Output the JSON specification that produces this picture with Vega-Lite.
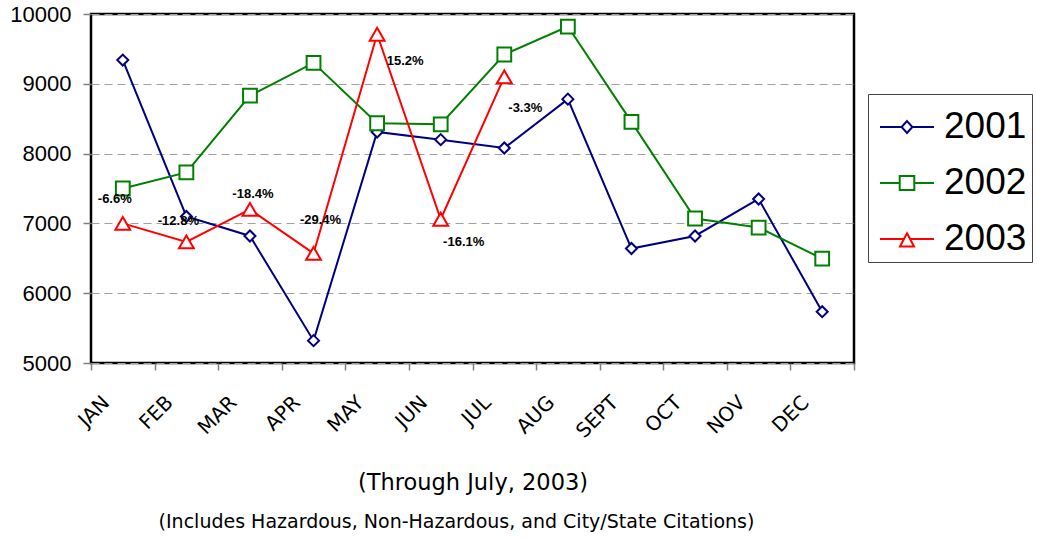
{
  "$schema": "https://vega.github.io/schema/vega-lite/v6.json",
  "width": 763,
  "height": 349,
  "autosize": {"type": "none"},
  "padding": {"left": 91, "top": 14, "right": 183, "bottom": 177},
  "background": "white",
  "config": {
    "view": {"stroke": "#000", "strokeWidth": 2.5},
    "axis": {"domain": false}
  },
  "title": {
    "text": "(Includes Hazardous, Non-Hazardous, and City/State Citations)",
    "orient": "bottom",
    "anchor": "middle",
    "frame": "group",
    "font": "DejaVu Sans",
    "fontSize": 19,
    "fontWeight": "normal",
    "color": "#000",
    "dx": -16,
    "offset": 19
  },
  "datasets": {
    "counts": [
      {"month": "JAN", "year": "2001", "value": 9340},
      {"month": "FEB", "year": "2001", "value": 7100},
      {"month": "MAR", "year": "2001", "value": 6820},
      {"month": "APR", "year": "2001", "value": 5320},
      {"month": "MAY", "year": "2001", "value": 8310},
      {"month": "JUN", "year": "2001", "value": 8200},
      {"month": "JUL", "year": "2001", "value": 8080},
      {"month": "AUG", "year": "2001", "value": 8780},
      {"month": "SEPT", "year": "2001", "value": 6640},
      {"month": "OCT", "year": "2001", "value": 6820},
      {"month": "NOV", "year": "2001", "value": 7350},
      {"month": "DEC", "year": "2001", "value": 5735},
      {"month": "JAN", "year": "2002", "value": 7500},
      {"month": "FEB", "year": "2002", "value": 7730},
      {"month": "MAR", "year": "2002", "value": 8830},
      {"month": "APR", "year": "2002", "value": 9300},
      {"month": "MAY", "year": "2002", "value": 8435},
      {"month": "JUN", "year": "2002", "value": 8420},
      {"month": "JUL", "year": "2002", "value": 9420},
      {"month": "AUG", "year": "2002", "value": 9820},
      {"month": "SEPT", "year": "2002", "value": 8455},
      {"month": "OCT", "year": "2002", "value": 7070},
      {"month": "NOV", "year": "2002", "value": 6940},
      {"month": "DEC", "year": "2002", "value": 6495},
      {"month": "JAN", "year": "2003", "value": 7000},
      {"month": "FEB", "year": "2003", "value": 6735},
      {"month": "MAR", "year": "2003", "value": 7200},
      {"month": "APR", "year": "2003", "value": 6570},
      {"month": "MAY", "year": "2003", "value": 9710},
      {"month": "JUN", "year": "2003", "value": 7060},
      {"month": "JUL", "year": "2003", "value": 9100}
    ],
    "labels": [
      {"month": "JAN", "value": 7000, "label": "-6.6%"},
      {"month": "FEB", "value": 6735, "label": "-12.8%"},
      {"month": "MAR", "value": 7200, "label": "-18.4%"},
      {"month": "APR", "value": 6570, "label": "-29.4%"},
      {"month": "MAY", "value": 9710, "label": "15.2%"},
      {"month": "JUN", "value": 7060, "label": "-16.1%"},
      {"month": "JUL", "value": 9100, "label": "-3.3%"}
    ]
  },
  "encoding": {
    "x": {
      "field": "month",
      "type": "nominal",
      "sort": ["JAN", "FEB", "MAR", "APR", "MAY", "JUN", "JUL", "AUG", "SEPT", "OCT", "NOV", "DEC"],
      "scale": {"type": "band", "paddingInner": 0, "paddingOuter": 0, "domain": ["JAN", "FEB", "MAR", "APR", "MAY", "JUN", "JUL", "AUG", "SEPT", "OCT", "NOV", "DEC"]},
      "axis": {
        "title": "(Through July, 2003)",
        "titleFont": "DejaVu Sans",
        "titleFontSize": 22.5,
        "titleFontWeight": "normal",
        "titleColor": "#000",
        "titlePadding": 30,
        "labelAngle": -45,
        "labelAlign": "right",
        "labelBaseline": "top",
        "labelFont": "DejaVu Sans",
        "labelFontSize": 20,
        "labelColor": "#000",
        "labelPadding": 22,
        "labelOffset": -24,
        "tickBand": "extent",
        "tickColor": "#808080",
        "tickSize": 7,
        "tickWidth": 1.5,
        "grid": false
      }
    },
    "y": {
      "field": "value",
      "type": "quantitative",
      "scale": {"domain": [5000, 10000], "nice": false, "zero": false},
      "axis": {
        "title": null,
        "values": [5000, 6000, 7000, 8000, 9000, 10000],
        "format": "d",
        "labelFont": "Liberation Sans",
        "labelFontSize": 22,
        "labelColor": "#000",
        "labelPadding": 12,
        "tickColor": "#808080",
        "tickSize": 8,
        "tickWidth": 1.5,
        "grid": true,
        "gridColor": "#a0a0a0",
        "gridDash": [8, 5],
        "gridWidth": 1
      }
    }
  },
  "layer": [
    {
      "data": {"name": "counts"},
      "mark": {"type": "line", "strokeWidth": 2},
      "encoding": {
        "stroke": {
          "field": "year",
          "type": "nominal",
          "scale": {"domain": ["2001", "2002", "2003"], "range": ["#000080", "#008000", "#ff0000"]},
          "legend": {
            "orient": "none",
            "legendX": 777,
            "legendY": 80,
            "direction": "vertical",
            "title": null,
            "labelFont": "Liberation Sans",
            "labelFontSize": 37,
            "labelColor": "#000",
            "labelOffset": 9,
            "padding": 5,
            "rowPadding": 10,
            "symbolOffset": 6,
            "strokeColor": "#444",
            "fillColor": "#fff",
            "symbolSize": 2916,
            "symbolStrokeWidth": 2,
            "symbolType": "M-1,0H1",
            "encode": {
              "symbols": {
                "update": {
                  "shape": {"signal": "datum.value == '2001' ? 'M-1,0H-0.2M0.2,0H1M0,-0.22L0.2,0L0,0.22L-0.2,0Z' : datum.value == '2002' ? 'M-1,0H-0.27M0.27,0H1M-0.27,-0.26H0.27V0.26H-0.27Z' : 'M-1,0H-0.11M0.11,0H1M0,-0.21L0.26,0.28H-0.26Z'"},
                  "fill": {"value": "#fff"},
                  "strokeWidth": {"value": 2},
                  "size": {"value": 2916},
                  "opacity": {"value": 1}
                }
              }
            }
          }
        }
      }
    },
    {
      "data": {"name": "counts"},
      "transform": [{"filter": "datum.year == '2001'"}],
      "mark": {"type": "point", "shape": "diamond", "size": 121, "filled": true, "fill": "#fff", "stroke": "#000080", "strokeWidth": 2, "opacity": 1}
    },
    {
      "data": {"name": "counts"},
      "transform": [{"filter": "datum.year == '2002'"}],
      "mark": {"type": "point", "shape": "square", "size": 190, "filled": true, "fill": "#fff", "stroke": "#008000", "strokeWidth": 2, "opacity": 1}
    },
    {
      "data": {"name": "counts"},
      "transform": [{"filter": "datum.year == '2003'"}],
      "mark": {"type": "point", "shape": "triangle-up", "size": 220, "filled": true, "fill": "#fff", "stroke": "#ff0000", "strokeWidth": 2, "opacity": 1}
    },
    {
      "data": {"name": "labels"},
      "transform": [{"filter": "datum.month == 'JAN'"}],
      "mark": {"type": "text", "font": "Liberation Sans", "fontWeight": "bold", "fontSize": 13, "color": "#000", "dx": -8, "dy": -24},
      "encoding": {"text": {"field": "label"}}
    },
    {
      "data": {"name": "labels"},
      "transform": [{"filter": "datum.month == 'FEB'"}],
      "mark": {"type": "text", "font": "Liberation Sans", "fontWeight": "bold", "fontSize": 13, "color": "#000", "dx": -8, "dy": -21},
      "encoding": {"text": {"field": "label"}}
    },
    {
      "data": {"name": "labels"},
      "transform": [{"filter": "datum.month == 'MAR'"}],
      "mark": {"type": "text", "font": "Liberation Sans", "fontWeight": "bold", "fontSize": 13, "color": "#000", "dx": 3, "dy": -15},
      "encoding": {"text": {"field": "label"}}
    },
    {
      "data": {"name": "labels"},
      "transform": [{"filter": "datum.month == 'APR'"}],
      "mark": {"type": "text", "font": "Liberation Sans", "fontWeight": "bold", "fontSize": 13, "color": "#000", "dx": 7, "dy": -33},
      "encoding": {"text": {"field": "label"}}
    },
    {
      "data": {"name": "labels"},
      "transform": [{"filter": "datum.month == 'MAY'"}],
      "mark": {"type": "text", "font": "Liberation Sans", "fontWeight": "bold", "fontSize": 13, "color": "#000", "dx": 28, "dy": 27},
      "encoding": {"text": {"field": "label"}}
    },
    {
      "data": {"name": "labels"},
      "transform": [{"filter": "datum.month == 'JUN'"}],
      "mark": {"type": "text", "font": "Liberation Sans", "fontWeight": "bold", "fontSize": 13, "color": "#000", "dx": 23, "dy": 23},
      "encoding": {"text": {"field": "label"}}
    },
    {
      "data": {"name": "labels"},
      "transform": [{"filter": "datum.month == 'JUL'"}],
      "mark": {"type": "text", "font": "Liberation Sans", "fontWeight": "bold", "fontSize": 13, "color": "#000", "dx": 21, "dy": 31},
      "encoding": {"text": {"field": "label"}}
    }
  ]
}
